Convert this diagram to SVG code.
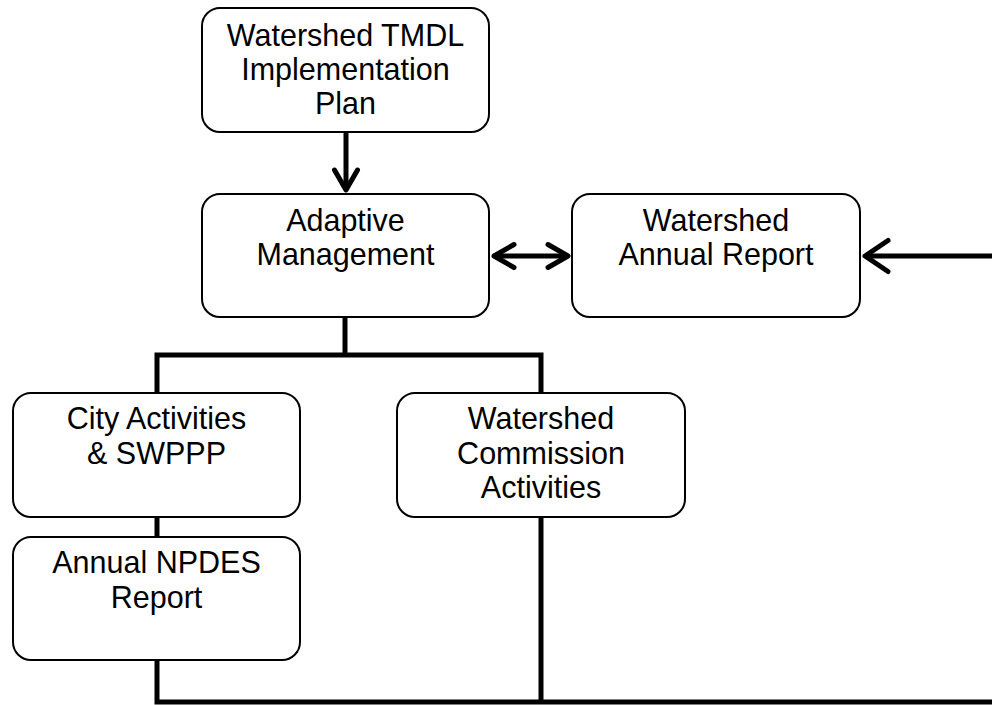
<svg xmlns="http://www.w3.org/2000/svg" width="992" height="705" viewBox="0 0 992 705">
<style>
.box{fill:#fff;stroke:#000;stroke-width:2}
.lbl{font-family:"Liberation Sans",Arial,sans-serif;font-size:30.5px;fill:#000;text-anchor:middle}
.con{fill:none;stroke:#000;stroke-width:5}
.head{fill:none;stroke:#000;stroke-width:5;stroke-linecap:round;stroke-linejoin:round}
</style>
<defs>
<marker id="arr" markerUnits="userSpaceOnUse" viewBox="-30 -20 40 40" markerWidth="40" markerHeight="40" refX="0" refY="0" orient="auto-start-reverse" overflow="visible">
<path class="head" d="M-20 -11.5 L0 0 L-20 11.5"/>
</marker>
<marker id="arrBig" markerUnits="userSpaceOnUse" viewBox="-30 -20 40 40" markerWidth="40" markerHeight="40" refX="0" refY="0" orient="auto" overflow="visible">
<path class="head" d="M-23 -15.5 L0 0 L-23 15.5"/>
</marker>
</defs>
<rect width="992" height="705" fill="#fff"/>
<g id="connectors">
<path class="con" d="M346 132 V190" marker-end="url(#arr)"/>
<path class="con" d="M494 256 H568" marker-start="url(#arr)" marker-end="url(#arr)"/>
<path class="con" d="M992 256 H865" marker-end="url(#arrBig)"/>
<path class="con" d="M345 317 V355"/>
<path class="con" d="M157 393 V355 H541 V393"/>
<path class="con" d="M157 517 V537"/>
<path class="con" d="M157 658 V702 H992"/>
<path class="con" d="M541 515 V702"/>
</g>
<g id="tmdl">
<rect class="box" x="202" y="8" width="287" height="124" rx="18"/>
<text class="lbl" x="345.5" y="46">Watershed TMDL</text>
<text class="lbl" x="345.5" y="80">Implementation</text>
<text class="lbl" x="345.5" y="114">Plan</text>
</g>
<g id="adaptive">
<rect class="box" x="202" y="194" width="287" height="123" rx="18"/>
<text class="lbl" x="345.5" y="230.5">Adaptive</text>
<text class="lbl" x="345.5" y="265">Management</text>
</g>
<g id="annual">
<rect class="box" x="572" y="194" width="288" height="123" rx="18"/>
<text class="lbl" x="716" y="230.5">Watershed</text>
<text class="lbl" x="716" y="265">Annual Report</text>
</g>
<g id="city">
<rect class="box" x="13" y="393" width="287" height="124" rx="18"/>
<text class="lbl" x="156.5" y="429">City Activities</text>
<text class="lbl" x="156.5" y="463.5">&amp; SWPPP</text>
</g>
<g id="commission">
<rect class="box" x="397" y="393" width="288" height="124" rx="18"/>
<text class="lbl" x="541" y="429">Watershed</text>
<text class="lbl" x="541" y="463.5">Commission</text>
<text class="lbl" x="541" y="498">Activities</text>
</g>
<g id="npdes">
<rect class="box" x="13" y="537" width="287" height="123" rx="18"/>
<text class="lbl" x="156.5" y="573">Annual NPDES</text>
<text class="lbl" x="156.5" y="607.5">Report</text>
</g>
</svg>
